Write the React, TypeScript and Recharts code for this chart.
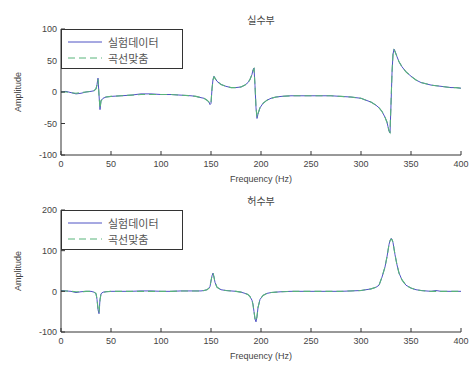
import React from "react"
import { LineChart, Line, XAxis, YAxis, Legend } from "recharts"

const freq = [
  0, 5, 10, 15, 20, 25, 30, 33, 35, 36, 37, 38, 39, 40, 42, 45, 50, 60, 70, 80, 90, 100, 110, 120, 130, 135,
  140, 143, 146, 148, 149, 150, 151, 152, 153, 154, 156, 160, 165, 170, 175, 180, 184, 187, 189, 191, 192,
  193, 194, 195, 196, 197, 199, 202, 206, 210, 215, 220, 230, 240, 250, 260, 270, 280, 290, 300, 305, 310,
  315, 318, 321, 324, 326, 327, 328, 329, 330, 331, 332, 333, 334, 336, 338, 341, 345, 350, 355, 360, 365,
  370, 375, 380, 385, 390, 395, 400,
]

const realMeasured = [
  0, 1, -1, -3, -2, 0, 1, 2, 5, 12, 22, -5, -28, -14, -10, -8, -7, -6, -5, -3, -3, -4, -4, -5, -6, -7,
  -9, -10, -13, -16, -20, -18, 5, 20, 25, 22, 17, 12, 9, 7, 7, 8, 11, 15, 20, 28, 35,
  38, 10, -25, -42, -35, -25, -18, -13, -10, -8, -7, -6, -6, -6, -6, -6, -7, -8, -10, -13, -16,
  -21, -25, -31, -40, -48, -55, -62, -65, -20, 30, 60, 68, 65, 56, 48, 40, 32, 25, 19, 15, 13,
  11, 10, 9, 8, 7, 7, 6,
]

const realFit = [
  0, 0, -1, -2, -1, 0, 1, 2, 5, 11, 20, -4, -26, -14, -10, -8, -7, -6, -5, -4, -4, -4, -4, -5, -6, -7,
  -9, -10, -13, -16, -19, -17, 5, 19, 24, 22, 17, 12, 9, 7, 7, 8, 11, 15, 20, 28, 34,
  37, 11, -24, -40, -34, -25, -18, -13, -10, -8, -7, -6, -6, -6, -6, -6, -7, -8, -10, -13, -16,
  -21, -25, -31, -40, -48, -55, -61, -64, -18, 31, 60, 67, 64, 56, 48, 40, 32, 25, 19, 15, 13,
  11, 10, 9, 8, 7, 7, 6,
]

const imagMeasured = [
  2, 1, 0, -3, -1, 0, 0, -2, -6, -20, -45, -55, -20, -6, -2, -1, 0, 0, 0, 1, 1, 0, 0, 1, 1, 1,
  1, 2, 4, 8, 12, 25, 38, 45, 35, 22, 10, 4, 2, 1, 0, -2, -5, -8, -13, -22, -32,
  -50, -68, -75, -62, -40, -20, -10, -5, -3, -2, -1, 0, 0, 0, 0, 0, 0, 1, 2, 4, 6,
  10, 15, 35, 60, 85, 100, 115, 125, 130, 128, 120, 105, 90, 65, 45, 28, 15, 8, 4, 2, 1,
  0, 2, 0, 0, 0, 0, 0,
]

const imagFit = [
  1, 1, 0, -1, -1, 0, 0, -2, -5, -18, -42, -52, -22, -7, -3, -1, 0, 0, 0, 0, 0, 0, 0, 1, 1, 1,
  1, 2, 4, 8, 13, 26, 38, 44, 35, 22, 10, 4, 2, 1, 0, -2, -5, -8, -13, -22, -33,
  -50, -67, -73, -62, -40, -20, -10, -5, -3, -2, -1, 0, 0, 0, 0, 0, 0, 1, 2, 4, 6,
  10, 15, 35, 60, 85, 100, 115, 124, 128, 127, 120, 105, 90, 65, 45, 28, 15, 8, 4, 2, 1,
  0, 0, 0, 0, 0, 0, 0,
]

const xTicks = [0, 50, 100, 150, 200, 250, 300, 350, 400]
const realTicks = [-100, -50, 0, 50, 100]
const imagTicks = [-100, 0, 100, 200]
const legendNames = ["실험데이터", "곡선맞춤"]

const realData = freq.map((f, i) => ({ f, measured: realMeasured[i], fit: realFit[i] }))
const imagData = freq.map((f, i) => ({ f, measured: imagMeasured[i], fit: imagFit[i] }))

const BLUE = "#4f52c4"
const GREEN = "#58b47a"
const AXIS = "#333"
const FONT = "'Liberation Sans', Arial, sans-serif"
const tickStyle = { fontSize: 9, fill: "#444", fontFamily: FONT }

function LegendBox() {
  return (
    <div
      style={{
        width: 122,
        height: 40,
        border: "1px solid #333",
        background: "#fff",
        fontFamily: "'Noto Sans CJK KR', sans-serif",
        fontSize: 11,
        color: "#555",
        boxSizing: "border-box",
      }}
    >
      {legendNames.map((name, i) => (
        <div key={name} style={{ display: "flex", alignItems: "center", height: 16, marginTop: i === 0 ? 4 : 0 }}>
          <svg width={40} height={6} style={{ marginLeft: 6 }}>
            <line
              x1={0}
              x2={34}
              y1={3}
              y2={3}
              stroke={i === 0 ? BLUE : GREEN}
              strokeWidth={1}
              strokeDasharray={i === 0 ? undefined : "7 4"}
            />
          </svg>
          <span style={{ lineHeight: "14px" }}>{name}</span>
        </div>
      ))}
    </div>
  )
}

interface PanelProps {
  title: string
  data: { f: number; measured: number; fit: number }[]
  domain: [number, number]
  ticks: number[]
  marginTop: number
  marginBottom: number
}

function Panel({ title, data, domain, ticks, marginTop, marginBottom }: PanelProps) {
  const plotBottom = 186 - marginBottom - 25
  return (
    <div style={{ position: "relative", width: 470, height: 186 }}>
      <div
        style={{
          position: "absolute",
          left: 61,
          width: 400,
          top: marginTop - 17,
          textAlign: "center",
          fontFamily: "'Noto Sans CJK KR', sans-serif",
          fontSize: 10,
          color: "#444",
        }}
      >
        {title}
      </div>
      <div
        style={{
          position: "absolute",
          left: 61,
          width: 400,
          top: plotBottom + 19,
          textAlign: "center",
          fontFamily: FONT,
          fontSize: 9,
          color: "#444",
        }}
      >
        Frequency (Hz)
      </div>
      <div
        style={{
          position: "absolute",
          left: 18,
          top: (marginTop + plotBottom) / 2,
          transform: "translate(-50%, -50%) rotate(-90deg)",
          fontFamily: FONT,
          fontSize: 9,
          color: "#444",
          whiteSpace: "nowrap",
        }}
      >
        Amplitude
      </div>
      <LineChart width={470} height={186} data={data} margin={{ top: marginTop, right: 9, bottom: marginBottom, left: 21 }}>
        <XAxis
          dataKey="f"
          type="number"
          domain={[0, 400]}
          ticks={xTicks}
          tick={tickStyle}
          tickSize={-4}
          tickMargin={10}
          height={25}
          stroke={AXIS}
          allowDataOverflow
        />
        <XAxis
          xAxisId="top"
          orientation="top"
          dataKey="f"
          type="number"
          domain={[0, 400]}
          ticks={xTicks}
          tick={false}
          tickSize={-4}
          height={0}
          stroke={AXIS}
        />
        <YAxis
          type="number"
          domain={domain}
          ticks={ticks}
          tick={tickStyle}
          tickSize={-4}
          tickMargin={8}
          width={40}
          stroke={AXIS}
          allowDataOverflow
        />
        <YAxis
          yAxisId="right"
          orientation="right"
          type="number"
          domain={domain}
          ticks={ticks}
          tick={false}
          tickSize={-4}
          width={0}
          stroke={AXIS}
        />
        <Legend
          layout="horizontal"
          verticalAlign="middle"
          align="center"
          content={() => <LegendBox />}
          wrapperStyle={{ position: "absolute", left: 61, top: marginTop, width: 122 }}
        />
        <Line type="linear" dataKey="measured" name={legendNames[0]} stroke={BLUE} strokeWidth={1} dot={false} isAnimationActive={false} />
        <Line
          type="linear"
          dataKey="fit"
          name={legendNames[1]}
          stroke={GREEN}
          strokeWidth={1.1}
          strokeDasharray="7 4"
          dot={false}
          isAnimationActive={false}
        />
      </LineChart>
    </div>
  )
}

export default function App() {
  return (
    <div style={{ position: "absolute", left: 0, top: 0, width: 470, height: 372, background: "#fff" }}>
      <Panel title="실수부" data={realData} domain={[-100, 100]} ticks={realTicks} marginTop={29} marginBottom={6} />
      <Panel title="허수부" data={imagData} domain={[-100, 200]} ticks={imagTicks} marginTop={24} marginBottom={15} />
    </div>
  )
}
